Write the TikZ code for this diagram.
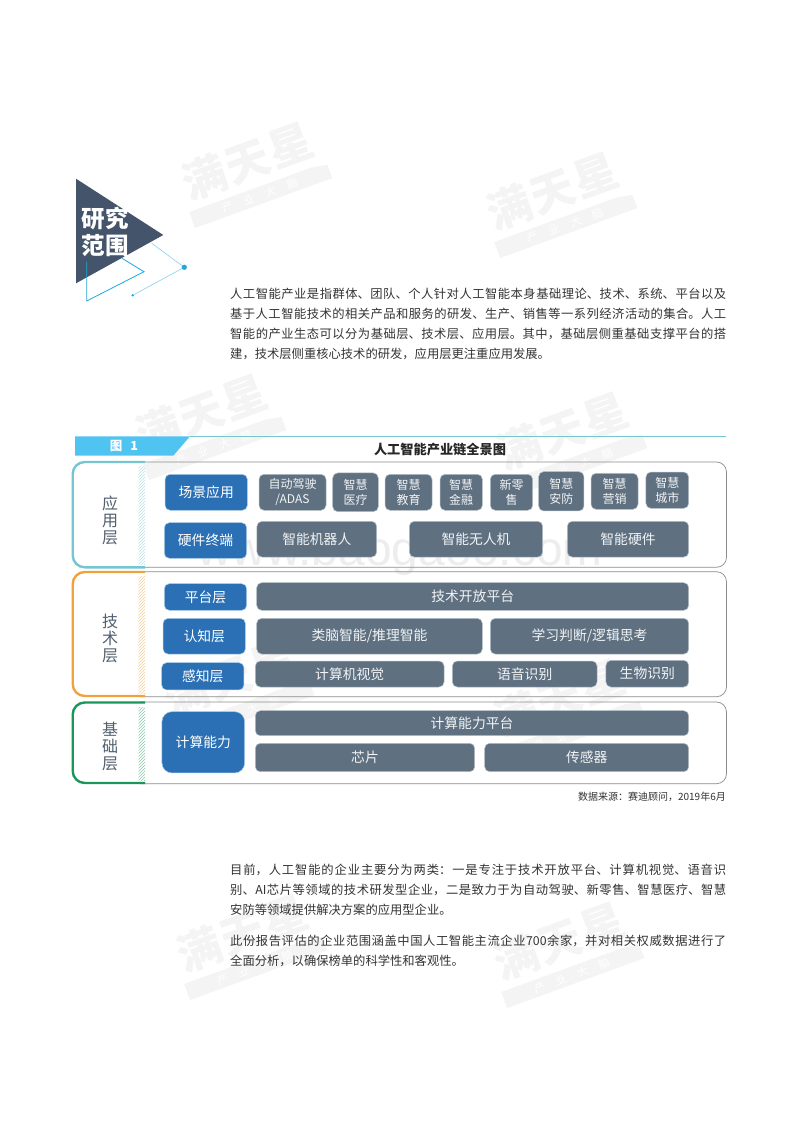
\documentclass[tikz,border=0pt]{standalone}
\usepackage{fontspec}
\usetikzlibrary{patterns}
\setmainfont{Noto Sans CJK SC}
\setsansfont{Liberation Sans}
\XeTeXlinebreaklocale "zh"
\XeTeXlinebreakskip=0pt plus 2pt
\definecolor{slate}{HTML}{44546A}
\definecolor{skyline}{HTML}{1FA8DC}
\definecolor{banner}{HTML}{4FC4F0}
\definecolor{bluebox}{HTML}{2B70B5}
\definecolor{bluerim}{HTML}{A9CDE8}
\definecolor{greybox}{HTML}{5F7081}
\definecolor{greyrim}{HTML}{B4BEC7}
\definecolor{markgrey}{HTML}{F4F4F4}
\definecolor{bodygrey}{HTML}{333333}
\definecolor{teallayer}{HTML}{76C6D2}
\definecolor{orangelayer}{HTML}{F0A23C}
\definecolor{greenlayer}{HTML}{1A9658}
\tikzset{
  bluenode/.style={fill=bluebox,draw=bluerim,line width=0.5pt,rounded corners=5pt,text=white,inner sep=0pt,
    align=center,font=\fontsize{13.8}{15}\selectfont},
  greynode/.style={fill=greybox,draw=greyrim,line width=0.5pt,rounded corners=5pt,text=white!92!greybox,inner sep=0pt,
    align=center,font=\fontsize{13.8}{15}\selectfont},
  smallgrey/.style={greynode,font=\fontsize{12}{15}\selectfont},
  layerlabel/.style={text=greybox!85!black,align=center,inner sep=0pt,font=\fontsize{16}{17}\selectfont},
  bodytext/.style={anchor=north west,inner sep=0pt,align=left,text=bodygrey,font=\fontsize{12.3}{20}\selectfont},
  layerline/.style={line width=2.4pt,rounded corners=12pt},
  frameline/.style={draw=black!45,line width=0.7pt,rounded corners=10pt}
}
\newcommand{\fullline}[1]{\vbox{\hsize=496pt\parindent=0pt\leftskip=0pt\rightskip=0pt\parfillskip=0pt #1\par}}
\newcommand{\watermark}[3]{
  \begin{scope}[shift={(#2,#3)},rotate=20,transform shape]
    \node[text=markgrey,inner sep=0pt,font=\fontsize{44}{44}\selectfont\bfseries] (#1) at (0,-2) {满\hspace{2pt}天\hspace{2pt}星};
    \fill[markgrey] (-72,26) -- (58,26) -- (74,29) -- (74,43) -- (-72,43) -- cycle;
    \node[text=white,inner sep=0pt,font=\fontsize{11}{11}\selectfont] (#1strip) at (0,34.5) {产\hspace{12pt}业\hspace{12pt}大\hspace{12pt}脑};
  \end{scope}
}
\begin{document}
\begin{tikzpicture}[x=1pt,y=-1pt]
  \useasboundingbox (0,0) rectangle (800,1132);
  \fill[white] (0,0) rectangle (800,1132);
  \watermark{markA}{248}{163}
  \watermark{markB}{553}{193}
  \watermark{markC}{202}{415}
  \watermark{markD}{563}{433}
  \watermark{markE}{230}{680}
  \watermark{markF}{560}{700}
  \watermark{markG}{243}{935}
  \watermark{markH}{560}{943}
  \node[text=black!7,inner sep=0pt,font=\fontsize{48}{48}\sffamily\selectfont] (site) at (400,553) {www.baogaoo.com};

  \fill[slate] (76,178.7) -- (163.3,235) -- (76,283.3) -- cycle;
  \draw[skyline,line width=0.8pt] (86.7,261.7) -- (86.7,301) -- (144,271.7) -- (122,258.3);
  \draw[skyline!60,line width=0.5pt] (151.7,243.3) -- (184.3,267.3) -- (132.7,295.3);
  \fill[skyline] (184.3,267.3) circle (2.6);
  \fill[skyline] (132.7,295.3) circle (1.3);
  \node[text=white,inner sep=0pt,align=center,font=\fontsize{23.5}{27}\selectfont\bfseries] (scope) at (105,232) {研究\\范围};

  \node[bodytext] (introtext) at (230,288) {\fullline{人工智能产业是指群体、团队、个人针对人工智能本身基础理论、技术、系统、平台以及}\\
    \fullline{基于人工智能技术的相关产品和服务的研发、生产、销售等一系列经济活动的集合。人工}\\
    \fullline{智能的产业生态可以分为基础层、技术层、应用层。其中，基础层侧重基础支撑平台的搭}\\
    建，技术层侧重核心技术的研发，应用层更注重应用发展。};

  \fill[banner] (75,436.3) -- (190,436.3) -- (173.3,455.7) -- (75,455.7) -- cycle;
  \coordinate (ruleleft) at (190,436.3);
  \coordinate (ruleright) at (726,436.3);
  \draw[teallayer,line width=1pt] (ruleleft) -- (ruleright);
  \node[text=white,inner sep=0pt,font=\fontsize{12.5}{14}\selectfont\bfseries] (figtag) at (124,446) {图\hspace{8pt}1};
  \node[text=black!85,inner sep=0pt,font=\fontsize{13.2}{14}\selectfont\bfseries] (figtitle) at (440,450) {人工智能产业链全景图};

  \draw[frameline] (140,462) -- (726.5,462) -- (726.5,567.3) -- (140,567.3);
  \draw[frameline] (140,571.7) -- (726.5,571.7) -- (726.5,696.7) -- (140,696.7);
  \draw[frameline] (140,702) -- (726.5,702) -- (726.5,783.7) -- (140,783.7);
  \fill[pattern=north east lines,pattern color=teallayer!50] (138.7,466) rectangle (145,564);
  \fill[pattern=north east lines,pattern color=orangelayer!50] (138.7,576) rectangle (145,693);
  \fill[pattern=north east lines,pattern color=greenlayer!50] (138.7,707) rectangle (145,780);
  \draw[layerline,teallayer] (145,462) -- (72.7,462) -- (72.7,567.3) -- (145,567.3);
  \draw[layerline,orangelayer] (145,572) -- (72.7,572) -- (72.7,696) -- (145,696);
  \draw[layerline,greenlayer] (145,702.5) -- (72.7,702.5) -- (72.7,783) -- (145,783);
  \node[layerlabel] (applayer) at (110,520) {应\\用\\层};
  \node[layerlabel] (techlayer) at (110,638) {技\\术\\层};
  \node[layerlabel] (baselayer) at (110,746) {基\\础\\层};

  \node[bluenode,minimum width=82.3pt,minimum height=36pt] (scene) at (206.2,492.3) {场景应用};
  \node[bluenode,minimum width=82.4pt,minimum height=35.6pt] (hardware) at (205.5,540.5) {硬件终端};
  \node[bluenode,minimum width=82.4pt,minimum height=26.6pt] (platform) at (205.5,597) {平台层};
  \node[bluenode,minimum width=82.3pt,minimum height=35.7pt] (cognition) at (204.2,636.2) {认知层};
  \node[bluenode,minimum width=82.3pt,minimum height=27.3pt] (perception) at (202.8,676.3) {感知层};
  \node[bluenode,rounded corners=10pt,minimum width=82.7pt,minimum height=61.3pt] (compute) at (203.3,742.3) {计算能力};

  \node[smallgrey,minimum width=67pt,minimum height=36pt] (driving) at (292.5,492.3) {自动驾驶\\/ADAS};
  \node[smallgrey,minimum width=45.6pt,minimum height=38.7pt] (medical) at (355.5,492.3) {智慧\\医疗};
  \node[smallgrey,minimum width=47pt,minimum height=36pt] (education) at (408.5,492.3) {智慧\\教育};
  \node[smallgrey,minimum width=42.3pt,minimum height=36pt] (finance) at (461.2,492.3) {智慧\\金融};
  \node[smallgrey,minimum width=42.4pt,minimum height=36pt] (retail) at (511.5,492.3) {新零\\售};
  \node[smallgrey,minimum width=45.3pt,minimum height=39.3pt] (security) at (561.3,491.3) {智慧\\安防};
  \node[smallgrey,minimum width=47pt,minimum height=36pt] (marketing) at (614.5,491.3) {智慧\\营销};
  \node[smallgrey,minimum width=42.7pt,minimum height=36.3pt] (city) at (667.3,490.2) {智慧\\城市};
  \node[greynode,minimum width=119.7pt,minimum height=35.7pt] (robot) at (316.8,539.2) {智能机器人};
  \node[greynode,minimum width=133.4pt,minimum height=35.7pt] (drone) at (476,539.2) {智能无人机};
  \node[greynode,minimum width=121.4pt,minimum height=35.7pt] (smartdev) at (628,539.2) {智能硬件};
  \node[greynode,minimum width=432pt,minimum height=27.6pt] (openplat) at (472.7,596.5) {技术开放平台};
  \node[greynode,minimum width=225.6pt,minimum height=35.7pt] (brainlike) at (369.5,636.2) {类脑智能/推理智能};
  \node[greynode,minimum width=198.4pt,minimum height=35.7pt] (learning) at (589.5,636.2) {学习判断/逻辑思考};
  \node[greynode,minimum width=188.7pt,minimum height=26pt] (vision) at (349.7,674) {计算机视觉};
  \node[greynode,minimum width=144.7pt,minimum height=26pt] (speech) at (524.7,674) {语音识别};
  \node[greynode,minimum width=82.7pt,minimum height=26.7pt] (biometric) at (647.3,673.7) {生物识别};
  \node[greynode,minimum width=433.4pt,minimum height=25pt] (computeplat) at (472,723.2) {计算能力平台};
  \node[greynode,minimum width=219.4pt,minimum height=28.4pt] (chip) at (365,757.5) {芯片};
  \node[greynode,minimum width=204pt,minimum height=28.4pt] (sensor) at (586.7,757.5) {传感器};

  \node[anchor=east,inner sep=0pt,text=bodygrey,font=\fontsize{10}{11}\selectfont] (source) at (726,796.5) {数据来源：赛迪顾问，2019年6月};

  \node[bodytext] (bodyone) at (230,864) {\fullline{目前，人工智能的企业主要分为两类：一是专注于技术开放平台、计算机视觉、语音识}\\
    \fullline{别、AI芯片等领域的技术研发型企业，二是致力于为自动驾驶、新零售、智慧医疗、智慧}\\
    安防等领域提供解决方案的应用型企业。};
  \node[bodytext] (bodytwo) at (230,935) {\fullline{此份报告评估的企业范围涵盖中国人工智能主流企业700余家，并对相关权威数据进行了}\\
    全面分析，以确保榜单的科学性和客观性。};
\end{tikzpicture}
\end{document}
